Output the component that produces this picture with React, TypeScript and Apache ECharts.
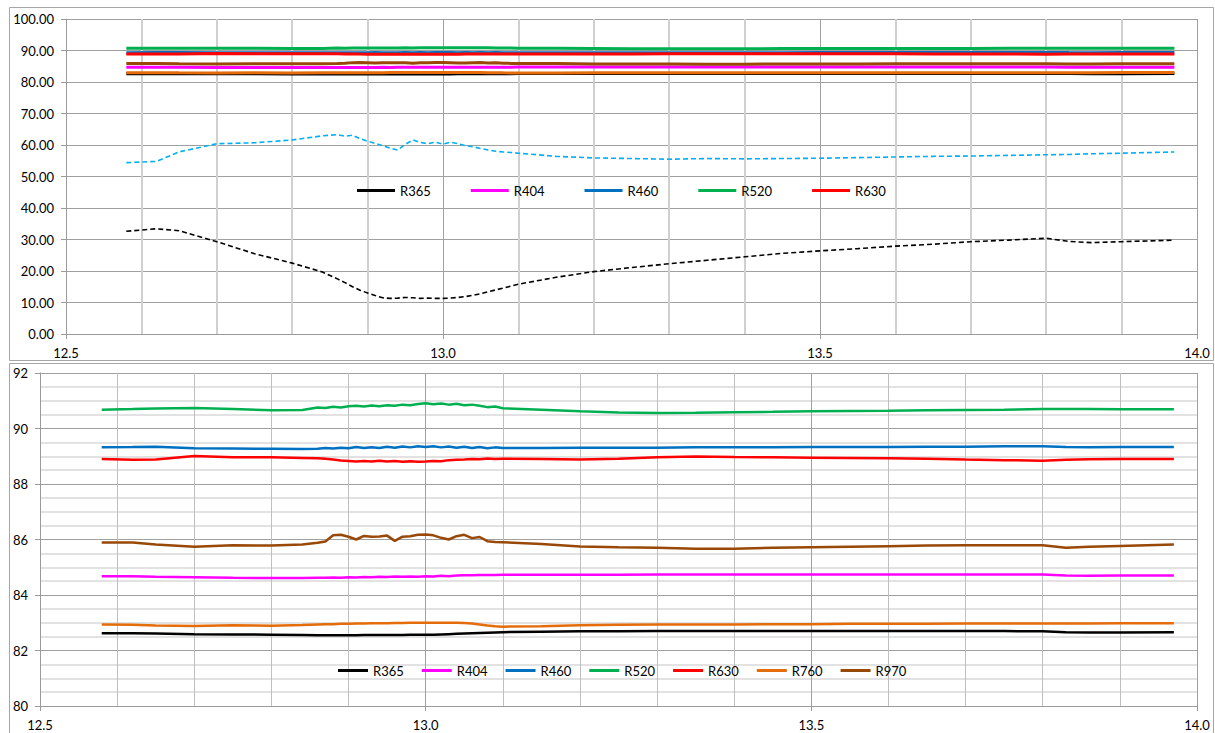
import React, { useEffect, useRef } from "react";
import * as echarts from "echarts";

const X = [
  12.58, 12.62, 12.65, 12.7, 12.75, 12.8, 12.84, 12.86, 12.87, 12.88,
  12.89, 12.9, 12.91, 12.92, 12.93, 12.94, 12.95, 12.96, 12.97, 12.98,
  12.99, 13.0, 13.01, 13.02, 13.03, 13.04, 13.05, 13.06, 13.07, 13.08,
  13.09, 13.1, 13.15, 13.2, 13.25, 13.3, 13.35, 13.4, 13.45, 13.5,
  13.55, 13.6, 13.65, 13.7, 13.75, 13.8, 13.83, 13.86, 13.9, 13.97,
];

const R365 = [
  82.62, 82.62, 82.61, 82.59, 82.58, 82.57, 82.56, 82.55, 82.55, 82.55,
  82.55, 82.55, 82.55, 82.56, 82.56, 82.56, 82.56, 82.56, 82.56, 82.57,
  82.57, 82.57, 82.57, 82.58, 82.59, 82.6, 82.61, 82.62, 82.63, 82.64,
  82.65, 82.66, 82.68, 82.69, 82.69, 82.7, 82.7, 82.7, 82.7, 82.7,
  82.7, 82.7, 82.7, 82.7, 82.7, 82.69, 82.66, 82.65, 82.65, 82.66,
];
const R404 = [
  84.68, 84.68, 84.66, 84.64, 84.62, 84.61, 84.61, 84.62, 84.62, 84.63,
  84.62, 84.64, 84.63, 84.65, 84.64, 84.66, 84.65, 84.67, 84.66, 84.67,
  84.66, 84.68, 84.67, 84.69, 84.68, 84.7, 84.71, 84.71, 84.72, 84.72,
  84.72, 84.73, 84.73, 84.73, 84.73, 84.74, 84.74, 84.74, 84.74, 84.74,
  84.74, 84.74, 84.74, 84.74, 84.74, 84.74, 84.7, 84.69, 84.7, 84.7,
];
const R460 = [
  89.32, 89.33, 89.34, 89.29, 89.28, 89.27, 89.26, 89.27, 89.3, 89.28,
  89.31, 89.29, 89.33, 89.3, 89.32, 89.3, 89.34, 89.31, 89.35, 89.32,
  89.36, 89.33, 89.36, 89.32, 89.35, 89.31, 89.34, 89.3, 89.33, 89.29,
  89.32, 89.3, 89.3, 89.31, 89.31, 89.31, 89.32, 89.32, 89.32, 89.33,
  89.33, 89.33, 89.34, 89.34, 89.36, 89.36, 89.33, 89.32, 89.33, 89.33,
];
const R520 = [
  90.68, 90.7, 90.72, 90.74, 90.7, 90.66, 90.67, 90.76, 90.74, 90.78,
  90.76, 90.8, 90.82, 90.79, 90.83, 90.8, 90.84, 90.82, 90.86, 90.84,
  90.88, 90.91, 90.87, 90.9, 90.86, 90.89, 90.84, 90.86, 90.82, 90.77,
  90.79, 90.73, 90.68, 90.62, 90.58, 90.56, 90.57, 90.59, 90.6, 90.62,
  90.63, 90.64, 90.66, 90.67, 90.68, 90.7, 90.7, 90.7, 90.69, 90.69,
];
const R630 = [
  88.9, 88.87, 88.88, 89.01, 88.96, 88.96, 88.94, 88.93, 88.91, 88.88,
  88.85, 88.83, 88.81, 88.83, 88.81, 88.84, 88.81, 88.83, 88.8, 88.82,
  88.8, 88.81, 88.83, 88.82, 88.86, 88.87, 88.88, 88.9, 88.89, 88.92,
  88.9, 88.91, 88.9, 88.88, 88.91, 88.96, 88.99, 88.97, 88.96, 88.95,
  88.94, 88.93, 88.91, 88.88, 88.86, 88.84, 88.87, 88.89, 88.9, 88.9,
];
const R760 = [
  82.94, 82.93, 82.9, 82.88, 82.91, 82.89, 82.92, 82.94, 82.95, 82.95,
  82.96, 82.96, 82.97, 82.97, 82.98, 82.98, 82.98, 82.99, 82.99, 83.0,
  83.0, 83.0, 83.0, 83.0, 83.0, 83.0, 82.99, 82.97, 82.94, 82.9,
  82.87, 82.86, 82.87, 82.91, 82.93, 82.94, 82.94, 82.94, 82.95, 82.95,
  82.96, 82.96, 82.96, 82.97, 82.97, 82.97, 82.97, 82.97, 82.98, 82.98,
];
const R970 = [
  85.89, 85.89, 85.82, 85.74, 85.79, 85.78, 85.82, 85.88, 85.93, 86.15,
  86.17, 86.1, 86.0, 86.13, 86.1, 86.11, 86.14, 85.95, 86.1, 86.12,
  86.17, 86.18, 86.15, 86.06, 86.0, 86.12, 86.17, 86.05, 86.09, 85.94,
  85.91, 85.9, 85.84, 85.75, 85.72, 85.7, 85.67, 85.67, 85.7, 85.72,
  85.74, 85.76, 85.78, 85.79, 85.79, 85.79, 85.7, 85.74, 85.77, 85.82,
];
const DASH_BLUE = [
  54.4, 54.8, 57.8, 60.4, 60.7, 61.6, 62.9, 63.3, 62.8, 63.1,
  62.0, 61.2, 60.5, 59.8, 59.0, 58.4, 60.2, 61.6, 60.8, 60.4,
  60.9, 60.3, 60.9, 60.4, 59.8, 59.4, 58.9, 58.4, 58.0, 57.8,
  57.6, 57.4, 56.4, 55.9, 55.7, 55.5, 55.7, 55.6, 55.7, 55.8,
  56.0, 56.2, 56.4, 56.5, 56.7, 56.9, 57.0, 57.2, 57.4, 57.8,
];
const DASH_BLACK = [
  32.6, 33.4, 32.8, 29.3, 25.5, 22.5, 19.7, 17.5, 16.3, 15.0,
  13.9, 13.0, 12.2, 11.5, 11.3, 11.4, 11.6, 11.5, 11.3, 11.4,
  11.3, 11.3, 11.4, 11.6, 11.9, 12.3, 12.8, 13.4, 14.0, 14.6,
  15.2, 15.8, 18.0, 19.8, 21.1, 22.3, 23.4, 24.5, 25.6, 26.4,
  27.1, 27.9, 28.5, 29.3, 29.8, 30.4, 29.4, 29.0, 29.3, 29.8,
];

const NAMES = ["R365", "R404", "R460", "R520", "R630", "R760", "R970"];
const VALUES = [R365, R404, R460, R520, R630, R760, R970];
const COLORS = ["#000000", "#FF00FF", "#0070C0", "#00B050", "#FF0000", "#E46C0A", "#984807"];
const TOP_LEGEND = ["R365", "R404", "R460", "R520", "R630"];
const BOTTOM_LEGEND = NAMES;

const FONT = "Lato, 'Liberation Sans', sans-serif";

const pairs = (vals: number[]) => X.map((x, i) => [x, vals[i]]);

function xAxis(gridIndex: number, minorColor: string, minorWidth: number) {
  return {
    type: "value",
    gridIndex,
    min: 12.5,
    max: 14.0,
    interval: 0.5,
    axisLabel: {
      formatter: (v: number) => v.toFixed(1),
      margin: 12,
      fontSize: 13,
      color: "#000",
      fontFamily: FONT,
    },
    axisLine: { show: true, onZero: false, lineStyle: { color: "#9A9A9A", width: 1 } },
    axisTick: { show: true, length: 5, lineStyle: { color: "#9A9A9A" } },
    splitLine: { show: true, lineStyle: { color: "#A0A0A0", width: 1 } },
    minorTick: { show: false, splitNumber: 5 },
    minorSplitLine: { show: true, lineStyle: { color: minorColor, width: minorWidth } },
  };
}

export default function App() {
  const ref = useRef<HTMLDivElement>(null);
  useEffect(() => {
    if (!ref.current) return;
    const chart = echarts.init(ref.current, null, { renderer: "svg" });
    const series: any[] = [];
    NAMES.forEach((n, i) => {
      series.push({
        name: n,
        type: "line",
        xAxisIndex: 0,
        yAxisIndex: 0,
        data: pairs(VALUES[i]),
        showSymbol: false,
        symbol: "none",
        color: COLORS[i],
        itemStyle: { color: COLORS[i] },
        lineStyle: { color: COLORS[i], width: 3 },
      });
    });
    series.push({
      name: "Trace A",
      type: "line",
      xAxisIndex: 0,
      yAxisIndex: 0,
      data: pairs(DASH_BLUE),
      showSymbol: false,
      symbol: "none",
      color: "#00B0F0",
      lineStyle: { color: "#00B0F0", width: 1.6, type: [5, 3] },
    });
    series.push({
      name: "Trace B",
      type: "line",
      xAxisIndex: 0,
      yAxisIndex: 0,
      data: pairs(DASH_BLACK),
      showSymbol: false,
      symbol: "none",
      color: "#000000",
      lineStyle: { color: "#000000", width: 1.6, type: [5, 3] },
    });
    NAMES.forEach((n, i) => {
      series.push({
        name: n,
        type: "line",
        xAxisIndex: 1,
        yAxisIndex: 1,
        data: pairs(VALUES[i]),
        showSymbol: false,
        symbol: "none",
        color: COLORS[i],
        itemStyle: { color: COLORS[i] },
        lineStyle: { color: COLORS[i], width: 2.5 },
      });
    });

    const legendText = { fontSize: 13, color: "#000", fontFamily: FONT };

    chart.setOption({
      animation: false,
      backgroundColor: "#fff",
      graphic: [
        {
          type: "rect",
          shape: { x: 9.5, y: 7.5, width: 1204, height: 353 },
          style: { fill: "none", stroke: "#A6A6A6", lineWidth: 1 },
          silent: true,
        },
        {
          type: "rect",
          shape: { x: 9.5, y: 363.5, width: 1204, height: 380 },
          style: { fill: "none", stroke: "#A6A6A6", lineWidth: 1 },
          silent: true,
        },
      ],
      grid: [
        { left: 66, right: 18, top: 19, height: 315 },
        { left: 40, right: 18, top: 373, height: 333 },
      ],
      xAxis: [xAxis(0, "#D0D0D0", 2), xAxis(1, "#BFBFBF", 1)],
      yAxis: [
        {
          type: "value",
          gridIndex: 0,
          min: 0,
          max: 100,
          interval: 10,
          axisLabel: {
            formatter: (v: number) => v.toFixed(2),
            margin: 12,
            fontSize: 13,
            color: "#000",
            fontFamily: FONT,
          },
          axisLine: { show: true, lineStyle: { color: "#9A9A9A" } },
          axisTick: { show: true, length: 5, lineStyle: { color: "#9A9A9A" } },
          splitLine: { show: true, lineStyle: { color: "#A0A0A0", width: 1 } },
        },
        {
          type: "value",
          gridIndex: 1,
          min: 80,
          max: 92,
          interval: 2,
          axisLabel: {
            formatter: (v: number) => String(v),
            margin: 12,
            fontSize: 13,
            color: "#000",
            fontFamily: FONT,
          },
          axisLine: { show: true, lineStyle: { color: "#9A9A9A" } },
          axisTick: { show: true, length: 5, lineStyle: { color: "#9A9A9A" } },
          splitLine: { show: true, lineStyle: { color: "#A0A0A0", width: 1 } },
          minorTick: { show: false, splitNumber: 4 },
          minorSplitLine: { show: true, lineStyle: { color: "#D9D9D9", width: 1.5 } },
        },
      ],
      legend: [
        {
          data: TOP_LEGEND,
          left: 352,
          top: 179,
          icon: "rect",
          itemWidth: 38,
          itemHeight: 3,
          itemGap: 40,
          textStyle: legendText,
        },
        {
          data: BOTTOM_LEGEND,
          left: 333,
          top: 659,
          icon: "rect",
          itemWidth: 30,
          itemHeight: 3,
          itemGap: 18,
          textStyle: legendText,
        },
      ],
      series,
    });
    return () => chart.dispose();
  }, []);
  return (
    <div
      ref={ref}
      style={{ position: "fixed", left: 0, top: 0, width: 1215, height: 733, background: "#fff" }}
    />
  );
}
